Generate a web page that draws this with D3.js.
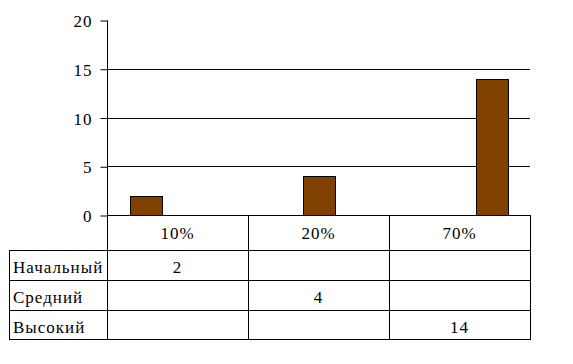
<!DOCTYPE html>
<html><head><meta charset="utf-8">
<script src="https://cdn.jsdelivr.net/npm/d3@7"></script>
<style>body{margin:0;background:#fff}</style>
</head><body><svg id="c" width="573" height="364"></svg>
<script>
const categories = ["10%", "20%", "70%"];
const seriesNames = ["Начальный", "Средний", "Высокий"];
const seriesValues = [
  [2, null, null],
  [null, 4, null],
  [null, null, 14]
];
const yTicks = [0, 5, 10, 15, 20];

const svg = d3.select("#c");
const pLeft = 107, pRight = 530, pTop = 20, pBottom = 215;
const x = d3.scaleBand().domain(categories).range([pLeft, pRight]);
const y = d3.scaleLinear().domain([0, 20]).range([pBottom, pTop]);
const barW = 32, gapL = 23;

function styleText(sel) {
  sel.attr("font-family", "Liberation Serif").attr("font-size", 17)
    .style("font-family", "Liberation Serif").style("font-size", "17px")
    .style("letter-spacing", "1px").attr("fill", "#000");
  return sel;
}

svg.append("g").selectAll("line").data(yTicks.filter(t => t > 0 && t < 20)).join("line")
  .attr("x1", pLeft).attr("x2", pRight)
  .attr("y1", d => Math.round(y(d)) + 0.5).attr("y2", d => Math.round(y(d)) + 0.5)
  .attr("stroke", "#000").attr("stroke-width", 1);

seriesValues.forEach((vals, si) => {
  svg.append("g").selectAll("rect").data(vals.map((v, i) => ({v, c: categories[i]})).filter(d => d.v != null)).join("rect")
    .attr("x", d => Math.round(x(d.c) + gapL + si * barW) + 0.5)
    .attr("y", d => Math.round(y(d.v)) + 0.5)
    .attr("width", barW)
    .attr("height", d => Math.round(y(0)) - Math.round(y(d.v)))
    .attr("fill", "#804000").attr("stroke", "#000").attr("stroke-width", 1);
});

const ax = svg.append("g").attr("transform", `translate(${pLeft + 0.5},0.5)`)
  .call(d3.axisLeft(y).tickValues(yTicks).tickSize(7).tickSizeOuter(0).tickPadding(8).tickFormat(d3.format("d")));
ax.attr("font-family", "Liberation Serif").attr("font-size", 17);
ax.selectAll("path, line").attr("stroke", "#000");
styleText(ax.selectAll("text")).attr("dy", "0.36em");
ax.select(".domain").attr("d", `M0,${y(20)}V${y(0)}`);

const tableLeft = 9;
const rowY = [pBottom, 250, 280, 310, 339];
const g = svg.append("g").attr("font-family", "Liberation Serif");
const L = (x1, y1, x2, y2) => g.append("line").attr("x1", x1).attr("y1", y1).attr("x2", x2).attr("y2", y2)
  .attr("stroke", "#000").attr("stroke-width", 1);
L(pLeft, pBottom + 0.5, pRight + 1, pBottom + 0.5);
for (let r = 1; r < rowY.length; r++) L(tableLeft, rowY[r] + 0.5, pRight + 1, rowY[r] + 0.5);
const colX = [pLeft, ...categories.map(c => x(c) + x.bandwidth())];
colX.forEach(cx => L(Math.round(cx) + 0.5, pBottom, Math.round(cx) + 0.5, rowY[4] + 1));
L(tableLeft + 0.5, rowY[1], tableLeft + 0.5, rowY[4] + 1);

styleText(g.selectAll("text.cat").data(categories).join("text").attr("class", "cat")
  .attr("x", d => x(d) + x.bandwidth() / 2).attr("y", 239).attr("text-anchor", "middle").text(d => d));
seriesNames.forEach((name, si) => {
  const by = rowY[si + 1] + 23;
  styleText(g.append("text").attr("x", 13).attr("y", by).text(name));
  seriesValues[si].forEach((v, ci) => {
    if (v != null) styleText(g.append("text").attr("x", x(categories[ci]) + x.bandwidth() / 2).attr("y", by)
      .attr("text-anchor", "middle").text(v));
  });
});
</script></body></html>
